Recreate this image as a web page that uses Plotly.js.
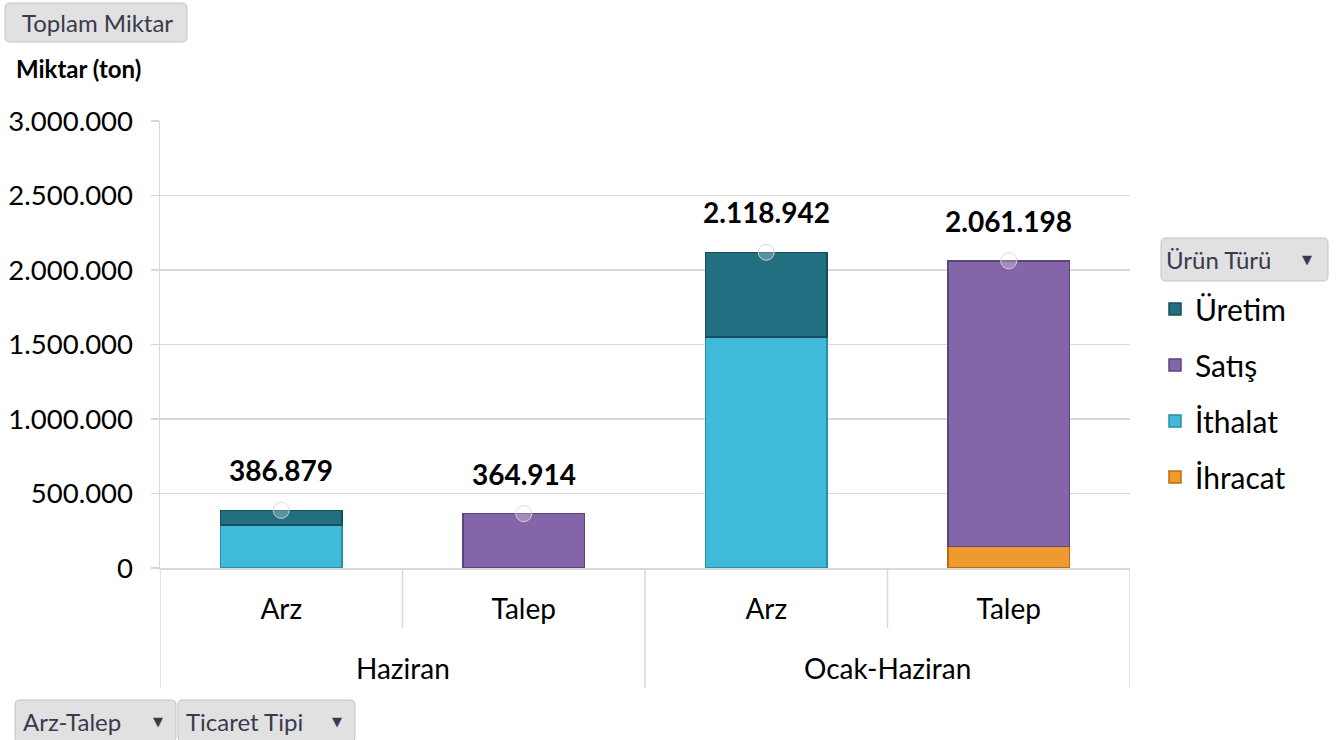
<!DOCTYPE html>
<html><head><meta charset="utf-8">
<script src="https://cdn.plot.ly/plotly-3.0.1.min.js"></script>
<style>body{margin:0;background:#fff}#chart{width:1338px;height:740px}</style>
</head><body><div id="chart"></div>
<script>
var periods = ["Haziran", "Haziran", "Ocak-Haziran", "Ocak-Haziran"];
var sides = ["Arz", "Talep", "Arz", "Talep"];
var ihracat = [null, null, null, 143000];
var ithalat = [290000, null, 1552000, null];
var satis = [null, 364914, null, 1918198];
var uretim = [96879, null, 566942, null];
var yTicks = [0, 500000, 1000000, 1500000, 2000000, 2500000, 3000000];

function nz(v){ return v == null ? 0 : v; }
var totals = sides.map(function(_, i){ return nz(ihracat[i]) + nz(ithalat[i]) + nz(satis[i]) + nz(uretim[i]); });
function fmt(v){ return Math.round(v).toString().replace(/\B(?=(\d{3})+(?!\d))/g, "."); }
var keys = sides.map(function(s, i){ return periods[i] + " | " + s; });

var FONT = "Lato, 'Open Sans', sans-serif";
var W = 1338, H = 740, L = 160, R = 208, T = 121, B = 172;
var pw = W - L - R, ph = H - T - B;
function px(x){ return (x - L) / pw; }
function py(y){ return (H - B - y) / ph; }

function barTrace(name, vals, color, lineColor, rank){
  return {type: "bar", name: name, x: keys, y: vals, legendgroup: name, legendrank: rank,
    marker: {color: color, line: {color: lineColor, width: 1.5}}, hoverinfo: "skip"};
}
var data = [
  barTrace("İhracat", ihracat, "#ef9a2f", "#c06a10", 4),
  barTrace("İthalat", ithalat, "#3fbad9", "#2a8ea8", 3),
  barTrace("Satış", satis, "#8465aa", "#5d4580", 2),
  barTrace("Üretim", uretim, "#226f81", "#174e5c", 1),
  {type: "scatter", mode: "markers", x: keys, y: totals, showlegend: false, hoverinfo: "skip",
    marker: {symbol: "circle", size: 16, color: "rgba(255,255,255,0.25)", line: {color: "rgba(215,215,215,0.9)", width: 1}}}
];

var annotations = totals.map(function(t, i){
  return {xref: "x", yref: "y", x: i, y: t, yshift: 40, text: "<b>" + fmt(t) + "</b>", showarrow: false,
    font: {family: FONT, size: 28, color: "#000"}};
});
// outer category labels, centred on their groups
var groups = [];
periods.forEach(function(p, i){
  var g = groups.length ? groups[groups.length - 1] : null;
  if (g && g.name === p) { g.end = i; } else { groups.push({name: p, start: i, end: i}); }
});
groups.forEach(function(g){
  annotations.push({xref: "x", yref: "paper", x: (g.start + g.end) / 2, y: py(668), yanchor: "middle",
    text: g.name, showarrow: false, font: {family: FONT, size: 28, color: "#000"}});
});

var shapes = [];
// pivot field buttons
function button(text, x0, y0, x1, y1, textX, arrowX){
  var r = 5;
  var X0 = px(x0), X1 = px(x1), Y0 = py(y0), Y1 = py(y1);
  var rx = r / pw, ry = r / ph;
  shapes.push({type: "path", xref: "paper", yref: "paper", layer: "above",
    path: "M" + (X0 + rx) + "," + Y0 + " L" + (X1 - rx) + "," + Y0 + " Q" + X1 + "," + Y0 + " " + X1 + "," + (Y0 - ry) +
      " L" + X1 + "," + (Y1 + ry) + " Q" + X1 + "," + Y1 + " " + (X1 - rx) + "," + Y1 +
      " L" + (X0 + rx) + "," + Y1 + " Q" + X0 + "," + Y1 + " " + X0 + "," + (Y1 + ry) +
      " L" + X0 + "," + (Y0 - ry) + " Q" + X0 + "," + Y0 + " " + (X0 + rx) + "," + Y0 + " Z",
    fillcolor: "#e1e1e1", line: {color: "#c4c4c4", width: 1}});
  annotations.push({xref: "paper", yref: "paper", x: px(textX), y: py((y0 + y1) / 2), xanchor: "left", yanchor: "middle",
    text: text, showarrow: false, font: {family: FONT, size: 24, color: "#3a3a4e"}});
  if (arrowX != null) {
    annotations.push({xref: "paper", yref: "paper", x: px(arrowX), y: py((y0 + y1) / 2), xanchor: "center", yanchor: "middle",
      text: "▼", showarrow: false, font: {family: "DejaVu Sans", size: 13, color: "#3a3a4e"}});
  }
}
button("Toplam Miktar", 5, 3, 187, 42, 20, null);
button("Arz-Talep", 15, 700, 176, 742, 21, 158);
button("Ticaret Tipi", 178, 700, 355, 742, 184, 337);
button("Ürün Türü", 1161, 238, 1328, 281, 1164, 1307);

annotations.push({xref: "paper", yref: "paper", x: px(14), y: py(68), xanchor: "left", yanchor: "middle",
  text: "<b>Miktar (ton)</b>", showarrow: false, font: {family: FONT, size: 24, color: "#000"}});

// category divider lines below the axis
var n = keys.length;
for (var b = 0; b <= n; b++) {
  var outer = (b === 0 || b === n || periods[b] !== periods[b - 1]);
  shapes.push({type: "line", xref: "x", yref: "paper", x0: b - 0.5, x1: b - 0.5, y0: 0, y1: py(outer ? 688 : 628),
    line: {color: "#d9d9d9", width: 1.5}});
}

var layout = {
  width: W, height: H,
  margin: {l: L, r: R, t: T, b: B},
  paper_bgcolor: "#fff", plot_bgcolor: "#fff",
  barmode: "stack", bargap: 0.5,
  separators: ",.",
  font: {family: FONT, size: 26, color: "#000"},
  showlegend: true,
  legend: {x: px(1155), xanchor: "left", y: py(283), yanchor: "top", traceorder: "grouped",
    tracegroupgap: 14, font: {family: FONT, size: 30, color: "#000"}, itemwidth: 30, bgcolor: "rgba(0,0,0,0)"},
  xaxis: {type: "category", range: [-0.5, n - 0.5], tickvals: keys, ticktext: sides,
    showline: true, linecolor: "#d9d9d9", linewidth: 1.5, ticks: "", ticklabelstandoff: 16,
    tickfont: {family: FONT, size: 28, color: "#000"}, showgrid: false, fixedrange: true},
  yaxis: {range: [0, 3000000], tickvals: yTicks, tickformat: ",d", showgrid: true, gridcolor: "#d9d9d9", gridwidth: 1.5,
    showline: true, linecolor: "#d9d9d9", linewidth: 1.5, zeroline: false, ticks: "outside", ticklen: 8, tickcolor: "#d9d9d9",
    tickwidth: 1.5, ticklabelstandoff: 12, tickfont: {family: FONT, size: 27.5, color: "#000"}, fixedrange: true},
  shapes: shapes,
  annotations: annotations
};
Plotly.newPlot("chart", data, layout, {displayModeBar: false, staticPlot: true});
</script></body></html>
